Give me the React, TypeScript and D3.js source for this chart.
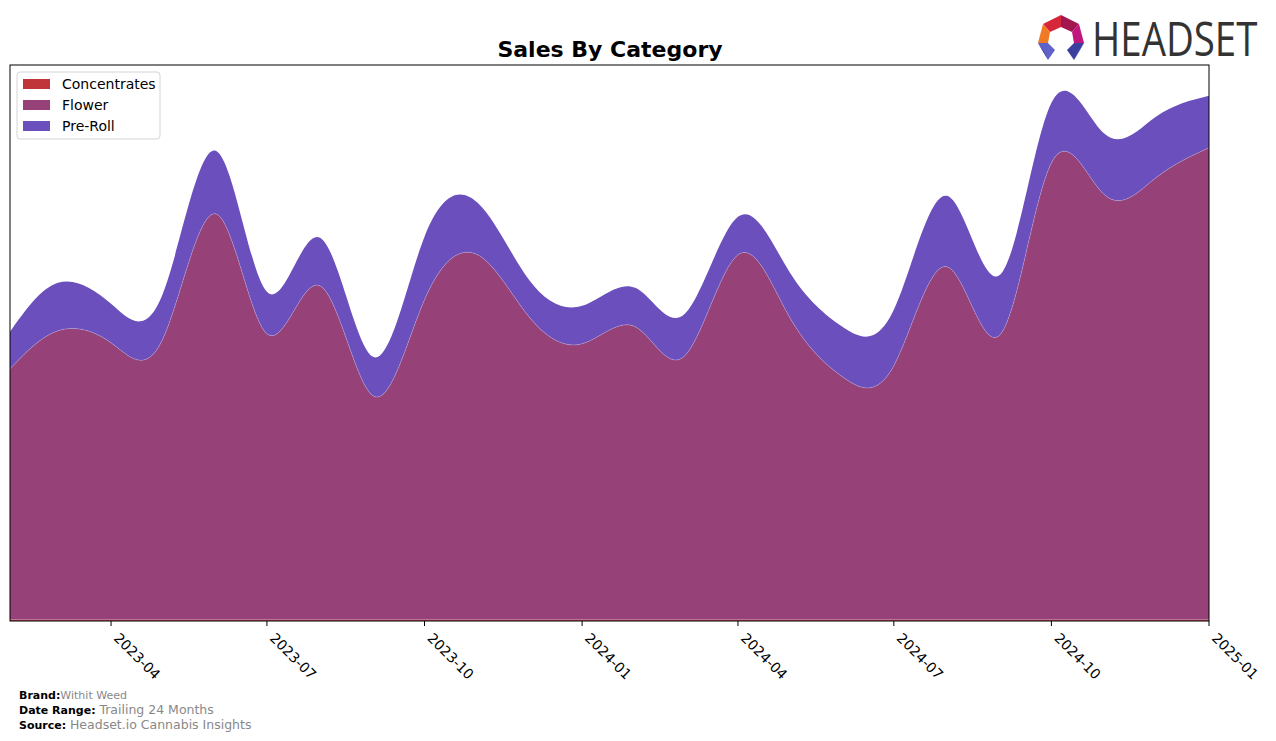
import React from "react";
import * as d3 from "d3";

// ---- Data (monthly, arbitrary sales units) ----
const months: string[] = [
  "2023-02", "2023-03", "2023-04", "2023-05", "2023-06", "2023-07", "2023-08", "2023-09",
  "2023-10", "2023-11", "2023-12", "2024-01", "2024-02", "2024-03", "2024-04", "2024-05",
  "2024-06", "2024-07", "2024-08", "2024-09", "2024-10", "2024-11", "2024-12", "2025-01",
];
const concentrates: number[] = [
  1.2, 1.2, 1.2, 1.2, 1.2, 1.2, 1.2, 1.2, 1.2, 1.2, 1.2, 1.2,
  1.2, 1.2, 1.2, 1.2, 1.2, 1.2, 1.2, 1.2, 1.2, 1.2, 1.2, 1.2,
];
const flower: number[] = [
  251, 289, 277, 280, 406, 286, 334, 224, 320, 365, 303, 276,
  293, 264, 365, 303, 243, 254, 353, 285, 457, 425, 442, 472,
];
const preRoll: number[] = [
  37, 48, 39, 45, 63, 42, 48, 39, 63, 52, 37, 38,
  39, 42, 38, 45, 50, 56, 71, 60, 60, 61, 61, 52,
];
const tickLabels: string[] = [
  "2023-04", "2023-07", "2023-10", "2024-01", "2024-04", "2024-07", "2024-10", "2025-01",
];
const seriesNames: string[] = ["Concentrates", "Flower", "Pre-Roll"];
const seriesColors: string[] = ["#C0353A", "#964177", "#6A4FBD"];

const parseMonth = (s: string) => {
  const [y, m] = s.split("-").map(Number);
  return new Date(Date.UTC(y, m - 1, 1));
};

export default function App() {
  const W = 1276;
  const H = 741;
  const left = 10, right = 1209, top = 65, bottom = 621;

  const x = d3
    .scaleUtc()
    .domain([parseMonth(months[0]), parseMonth(months[months.length - 1])])
    .range([left, right]);
  const y = d3.scaleLinear().domain([0, 556]).range([bottom, top]);

  const rows = months.map((m, i) => ({
    date: parseMonth(m),
    Concentrates: concentrates[i],
    Flower: flower[i],
    "Pre-Roll": preRoll[i],
  }));
  const stacked = d3.stack<any>().keys(seriesNames)(rows);
  const area = d3
    .area<any>()
    .x((d) => x(d.data.date))
    .y0((d) => y(d[0]))
    .y1((d) => y(d[1]))
    .curve(d3.curveNatural);
  const topLine = d3
    .line<any>()
    .x((d) => x(d.data.date))
    .y((d) => y(d[1]))
    .curve(d3.curveNatural);

  const font = "DejaVu Sans, Verdana, sans-serif";

  return (
    <svg
      width={W}
      height={H}
      style={{ position: "absolute", left: 0, top: 0, background: "#fff" }}
      fontFamily={font}
    >
      <defs>
        <clipPath id="plotClip">
          <rect x={left} y={top} width={right - left} height={bottom - top} />
        </clipPath>
      </defs>
      <text x={610} y={57} textAnchor="middle" fontSize={22} fontWeight="bold" fill="#000">
        Sales By Category
      </text>

      <g clipPath="url(#plotClip)">
        {stacked.map((s, i) => (
          <path key={s.key} d={area(s) || ""} fill={seriesColors[i]} />
        ))}
        {stacked.slice(0, 2).map((s) => (
          <path
            key={"l" + s.key}
            d={topLine(s) || ""}
            fill="none"
            stroke="rgba(255,255,255,0.35)"
            strokeWidth={0.6}
          />
        ))}
      </g>

      <rect
        x={left}
        y={top}
        width={right - left}
        height={bottom - top}
        fill="none"
        stroke="#000"
        strokeWidth={1}
      />

      {tickLabels.map((t) => {
        const tx = x(parseMonth(t));
        return (
          <g key={t}>
            <line x1={tx} x2={tx} y1={bottom} y2={bottom + 5} stroke="#000" strokeWidth={1} />
            <text
              transform={`translate(${tx + 2},${bottom + 18}) rotate(45)`}
              fontSize={14}
              fill="#000"
            >
              {t}
            </text>
          </g>
        );
      })}

      {/* Legend */}
      <rect x={17} y={72} width={143} height={67} rx={3} fill="#fff" fillOpacity={0.8} stroke="#d5d5d5" />
      {seriesNames.map((n, i) => (
        <g key={n}>
          <rect x={23} y={79 + i * 21} width={27} height={10} fill={seriesColors[i]} />
          <text x={62} y={89 + i * 21} fontSize={14} fill="#000">
            {n}
          </text>
        </g>
      ))}

      {/* Footer */}
      <text x={19} y={699} fontSize={11}>
        <tspan fontWeight="bold" fill="#000">Brand:</tspan>
        <tspan fill="#888">Withit Weed</tspan>
      </text>
      <text x={19} y={714} fontSize={11}>
        <tspan fontWeight="bold" fill="#000">Date Range: </tspan>
        <tspan fill="#888" fontSize={12.5}>Trailing 24 Months</tspan>
      </text>
      <text x={19} y={729} fontSize={11}>
        <tspan fontWeight="bold" fill="#000">Source: </tspan>
        <tspan fill="#888" fontSize={12.5}>Headset.io Cannabis Insights</tspan>
      </text>

      {/* Logo */}
      <g>
        <polygon points="1043,24 1061,15 1061,27 1050,32" fill="#D6263A" />
        <polygon points="1061,15 1079,24 1072,32 1061,27" fill="#A3174F" />
        <polygon points="1043,24 1050,32 1048,43 1038,43" fill="#F07A23" />
        <polygon points="1079,24 1084,43 1074,43 1072,32" fill="#C0177E" />
        <polygon points="1038,43 1048,43 1055,50 1048,60" fill="#6062C9" />
        <polygon points="1084,43 1074,43 1067,50 1074,60" fill="#3B3F9F" />
        <polygon points="1038,43 1048,60 1044,52" fill="#2E3280" />
        <polygon points="1084,43 1074,60 1078,52" fill="#5C60C6" />
        <text
          transform="translate(1092,56) scale(0.8,1)"
          fontSize={48}
          fill="#333"
          fontFamily="Open Sans, Roboto, sans-serif"
        >
          HEADSET
        </text>
      </g>
    </svg>
  );
}
